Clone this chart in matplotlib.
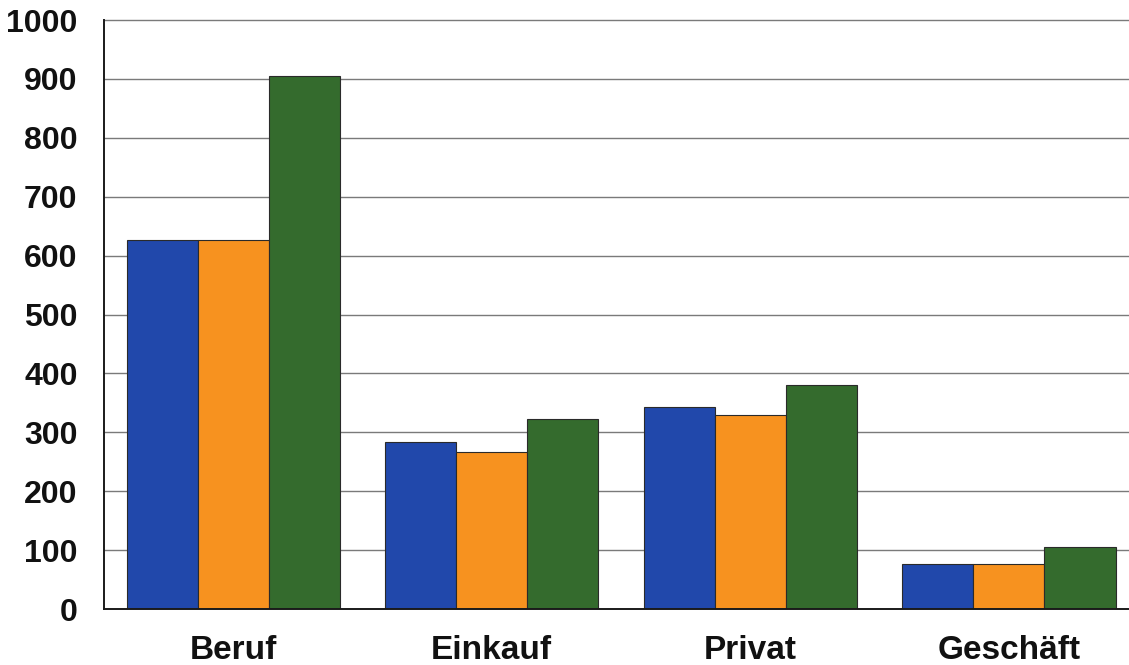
import matplotlib
matplotlib.use("Agg")
import matplotlib.pyplot as plt
import numpy as np

categories = ["Beruf", "Einkauf", "Privat", "Geschäft"]
series_blue = [627, 283, 343, 77]
series_orange = [627, 266, 329, 76]
series_green = [905, 322, 380, 106]
y_ticks = [0, 100, 200, 300, 400, 500, 600, 700, 800, 900, 1000]

colors = ["#2148ab", "#f7921f", "#346b2d"]

plt.rcParams["font.family"] = ["Liberation Sans", "DejaVu Sans"]

fig = plt.figure(figsize=(11.29, 6.65), dpi=100)
ax = fig.add_axes([0.0921, 0.0842, 0.916, 0.8857])

x = np.arange(len(categories))
w = 0.275
for i, (vals, c) in enumerate(zip([series_blue, series_orange, series_green], colors)):
    ax.bar(x + (i - 1) * w, vals, width=w, color=c, edgecolor="#2a2a2a",
           linewidth=0.8, zorder=3)

ax.set_xlim(-0.5, 3.5)
ax.set_ylim(0, 1000)
ax.set_yticks(y_ticks)
ax.set_yticklabels([str(t) for t in y_ticks], fontsize=23, fontweight="bold",
                   color="#111111")
ax.set_xticks(x)
ax.set_xticklabels(categories, fontsize=24, fontweight="bold", color="#111111")
ax.tick_params(axis="both", length=0)
ax.tick_params(axis="y", pad=19)
ax.tick_params(axis="x", pad=19)

for t in y_ticks[1:]:
    ax.axhline(t, color="#7a7a7a", linewidth=1.0, zorder=1, clip_on=False)

for s in ["top", "right"]:
    ax.spines[s].set_visible(False)
ax.spines["left"].set_color("#1a1a1a")
ax.spines["left"].set_linewidth(1.4)
ax.spines["bottom"].set_color("#1a1a1a")
ax.spines["bottom"].set_linewidth(1.4)
ax.spines["bottom"].set_zorder(4)

fig.savefig("out.png", dpi=100)
